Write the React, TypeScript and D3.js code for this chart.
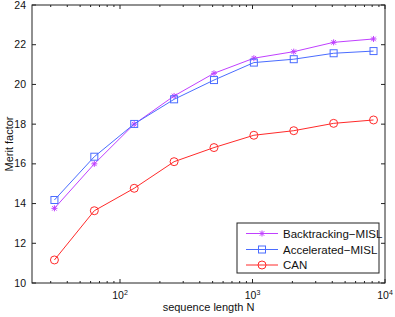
import React from "react";
import * as d3 from "d3";

const lengths = [32, 64, 128, 256, 512, 1024, 2048, 4096, 8192];
const backtracking = [13.76, 16.0, 18.0, 19.42, 20.56, 21.32, 21.65, 22.12, 22.29];
const accelerated = [14.18, 16.36, 18.01, 19.25, 20.22, 21.1, 21.27, 21.57, 21.68];
const can = [11.16, 13.64, 14.77, 16.11, 16.82, 17.44, 17.67, 18.04, 18.21];
const seriesNames = ["Backtracking-MISL", "Accelerated-MISL", "CAN"];
const seriesColors = ["#c040ff", "#4a6cff", "#ff2a2a"];
const yTicks = [10, 12, 14, 16, 18, 20, 22, 24];
const xMajor = [100, 1000, 10000];

const W = 395, H = 317;
const L = 32, R = 385, T = 5, B = 283;

function Marker({ kind, x, y, color }: { kind: number; x: number; y: number; color: string }) {
  if (kind === 0) {
    const s = 3;
    return (
      <g stroke={color} strokeWidth={1}>
        <line x1={x - s} y1={y} x2={x + s} y2={y} />
        <line x1={x} y1={y - s} x2={x} y2={y + s} />
        <line x1={x - s * 0.75} y1={y - s * 0.75} x2={x + s * 0.75} y2={y + s * 0.75} />
        <line x1={x - s * 0.75} y1={y + s * 0.75} x2={x + s * 0.75} y2={y - s * 0.75} />
      </g>
    );
  }
  if (kind === 1) {
    return <rect x={x - 3.5} y={y - 3.5} width={7} height={7} fill="none" stroke={color} strokeWidth={1} />;
  }
  return <circle cx={x} cy={y} r={4} fill="none" stroke={color} strokeWidth={1} />;
}

export default function App() {
  const x = d3.scaleLog().domain([10 ** (4 - (R - L) / 132.5), 10000]).range([L, R]);
  const y = d3.scaleLinear().domain([10, 24]).range([B, T]);
  const data = [backtracking, accelerated, can];
  const line = d3
    .line<[number, number]>()
    .x((d) => x(d[0]))
    .y((d) => y(d[1]));

  const minor: number[] = [];
  for (let e = 1; e <= 3; e++) {
    for (let k = 2; k <= 9; k++) {
      const v = k * 10 ** e;
      if (v >= x.domain()[0] && v <= 10000) minor.push(v);
    }
  }

  const font = "Liberation Sans, Arial, sans-serif";
  const legX = 237, legY = 223, legW = 142, legH = 50;
  const rowY = [233.5, 249.5, 265];

  return (
    <svg width={W} height={H} style={{ position: "absolute", left: 0, top: 0 }} fontFamily={font}>
      <rect x={0} y={0} width={W} height={H} fill="#fff" />
      <g stroke="#222" strokeWidth={1}>
        {yTicks.map((t) => (
          <g key={t}>
            <line x1={L} x2={L + 4} y1={y(t)} y2={y(t)} />
            <line x1={R} x2={R - 4} y1={y(t)} y2={y(t)} />
          </g>
        ))}
        {xMajor.map((t) => (
          <g key={t}>
            <line x1={x(t)} x2={x(t)} y1={B} y2={B - 4} />
            <line x1={x(t)} x2={x(t)} y1={T} y2={T + 4} />
          </g>
        ))}
        {minor.map((t) => (
          <g key={t}>
            <line x1={x(t)} x2={x(t)} y1={B} y2={B - 2} />
            <line x1={x(t)} x2={x(t)} y1={T} y2={T + 2} />
          </g>
        ))}
      </g>
      {yTicks.map((t) => (
        <text key={t} x={L - 6} y={y(t) + 3.5} fontSize={10.5} textAnchor="end" fill="#111">
          {t}
        </text>
      ))}
      {xMajor.map((t) => (
        <text key={t} x={x(t)} y={B + 16} fontSize={10.5} textAnchor="middle" fill="#111">
          10
          <tspan dy={-4} fontSize={7}>
            {Math.round(Math.log10(t))}
          </tspan>
        </text>
      ))}
      <text x={(L + R) / 2} y={311} fontSize={11} textAnchor="middle" fill="#111">
        sequence length N
      </text>
      <text transform={`translate(13,${(T + B) / 2}) rotate(-90)`} fontSize={11} textAnchor="middle" fill="#111">
        Merit factor
      </text>
      {data.map((vals, i) => {
        const pts = lengths.map((n, j) => [n, vals[j]] as [number, number]);
        return (
          <g key={i}>
            <path d={line(pts) || ""} fill="none" stroke={seriesColors[i]} strokeWidth={1} />
            {pts.map((p, j) => (
              <Marker key={j} kind={i} x={x(p[0])} y={y(p[1])} color={seriesColors[i]} />
            ))}
          </g>
        );
      })}
      <rect x={L} y={T} width={R - L} height={B - T} fill="none" stroke="#222" strokeWidth={1} />
      <rect x={legX} y={legY} width={legW} height={legH} fill="#fff" stroke="#222" strokeWidth={1} />
      {seriesNames.map((name, i) => (
        <g key={name}>
          <line x1={246} x2={278} y1={rowY[i]} y2={rowY[i]} stroke={seriesColors[i]} strokeWidth={1} />
          <Marker kind={i} x={262} y={rowY[i]} color={seriesColors[i]} />
          <text x={283} y={rowY[i] + 4} fontSize={11.5} fill="#111">
            {name.replace("-", "\u2212")}
          </text>
        </g>
      ))}
    </svg>
  );
}
